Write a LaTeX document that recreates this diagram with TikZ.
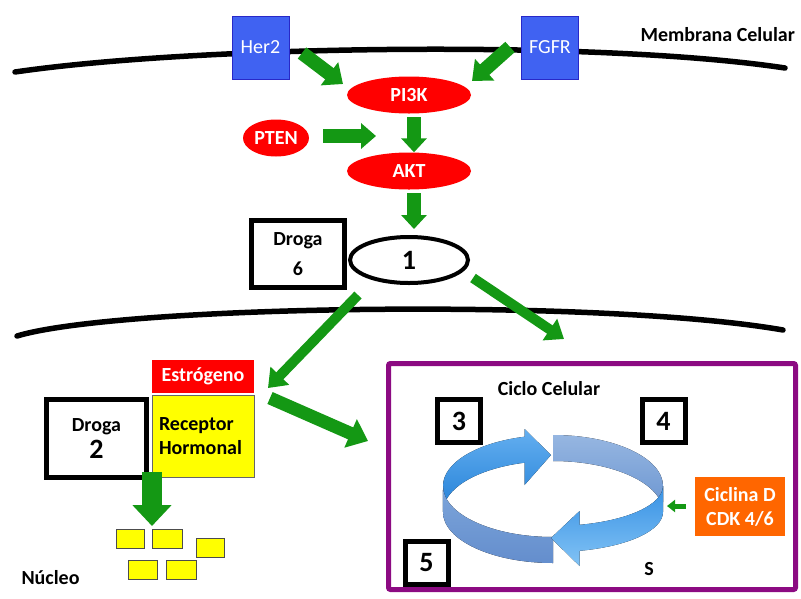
\documentclass[tikz,border=0pt]{standalone}
\usepackage{fontspec}
\setmainfont{Carlito}
\usetikzlibrary{arrows.meta,shapes.geometric,calc}
\definecolor{gr}{RGB}{20,152,20}
\definecolor{recblue}{RGB}{64,98,242}
\definecolor{recborder}{RGB}{40,40,200}
\definecolor{purp}{RGB}{140,10,130}
\definecolor{orng}{RGB}{255,102,0}
\definecolor{yel}{RGB}{255,255,0}
\begin{document}
\begin{tikzpicture}[x=1pt,y=-1pt,
  font=\fontsize{20}{24}\selectfont\bfseries,
  recbox/.style={draw=recborder, line width=1pt, fill=recblue, text=white,
    font=\fontsize{20}{24}\selectfont, minimum width=57pt, minimum height=63pt, inner sep=0pt},
  enz/.style={ellipse, fill=red, text=white, minimum width=124pt, minimum height=37pt, inner sep=0pt},
  drogabox/.style={draw, line width=5pt, fill=white, align=center, inner sep=0pt},
  numbox/.style={draw, line width=5pt, fill=white, minimum size=43pt, inner sep=0pt,
    font=\fontsize{28}{28}\selectfont\bfseries},
  nucbox/.style={draw=black!70, line width=0.8pt, fill=yel, minimum width=28pt, minimum height=19pt, inner sep=0pt},
  fat/.style={draw=gr, line width=14pt, -{Triangle[length=17pt,width=28pt]}},
  thin/.style={draw=gr, line width=10pt, -{Triangle[length=17pt,width=25pt]}},
  membrane/.style={line width=5.5pt, line cap=round}
]
\useasboundingbox (0,0) rectangle (801,598);

% membranes
\draw[membrane] (15,72) .. controls (200,45) and (600,40) .. (785,68);
\draw[membrane] (17,336) .. controls (120,305) and (600,298) .. (783,330);
\node[anchor=base west] (memb) at (637,41) {Membrana Celular};

% receptors
\node[recbox] (her2) at (260.5,47.5) {Her2};
\node[recbox] (fgfr) at (550,47.5) {FGFR};

% enzymes
\node[enz] (pi3k) at (409,95) {PI3K};
\node[enz, minimum width=66pt] (pten) at (276,138) {PTEN};
\node[enz] (akt) at (409,171) {AKT};

% oval 1 and droga 6
\node[ellipse, draw, line width=4pt, fill=white, minimum width=118pt, minimum height=46pt,
  font=\fontsize{28}{28}\selectfont\bfseries] (one) at (409,260) {1};
\node[drogabox, minimum width=93pt, minimum height=67pt] (d6) at (298,254) {Droga\\[6pt]6};

% arrows top
\coordinate (h2a) at (302,53); \coordinate (h2b) at (343,84);
\draw[fat] (h2a) -- (h2b);
\coordinate (fga) at (510,47); \coordinate (fgb) at (472,81);
\draw[fat] (fga) -- (fgb);
\coordinate (ptb) at (376,136);
\draw[fat, -{Triangle[length=15pt,width=25pt]}, shorten <=14pt] (pten.east |- ptb) -- (ptb);
\draw[fat, -{Triangle[length=14pt,width=25pt]}, shorten <=3.5pt] ([xshift=5pt]pi3k.south) -- ([xshift=5pt]akt.north);
\draw[fat, -{Triangle[length=14pt,width=25pt]}, shorten <=3.5pt, shorten >=6pt] ([xshift=5pt]akt.south) -- ([xshift=5pt]one.north);

% membrane 2 arrows
\coordinate (o1a) at (358,295); \coordinate (o1b) at (268,388);
\draw[thin] (o1a) -- (o1b);
\coordinate (o2a) at (473,278); \coordinate (o2b) at (564,339);
\draw[thin] (o2a) -- (o2b);

% hormone receptor
\node[fill=red, text=white, minimum width=102pt, minimum height=33pt, inner sep=0pt] (estro) at (203,376.5) {Estrógeno};
\node[draw=black!60, line width=0.8pt, fill=yel, text width=88pt, inner xsep=7pt, inner ysep=0pt,
  minimum height=82pt, align=left] (rec) at (203,436) {Receptor\\Hormonal};
\node[drogabox, minimum width=100pt, minimum height=78pt] (d2) at (96.5,438.5)
  {Droga\\[3pt]{\fontsize{28}{28}\selectfont 2}};

\coordinate (ra) at (270,398); \coordinate (rb) at (368,441);
\draw[fat, line width=13pt, -{Triangle[length=19pt,width=30pt]}] (ra) -- (rb);
\coordinate (dna) at (152,472); \coordinate (dnb) at (152,526);
\draw[fat, line width=20pt, -{Triangle[length=21pt,width=38pt]}] (dna) -- (dnb);

% nucleus
\node[nucbox] (n1) at (130,538.5) {};
\node[nucbox, minimum width=30pt] (n2) at (167,538.5) {};
\node[nucbox] (n3) at (210,548) {};
\node[nucbox, minimum width=29pt] (n4) at (142.5,570) {};
\node[nucbox, minimum width=30pt] (n5) at (181,570) {};
\node[anchor=base west] (nuc) at (18,584) {Núcleo};

% cell cycle box
\node[draw=purp, line width=5pt, minimum width=407pt, minimum height=226pt, inner sep=0pt, rounded corners=2pt] (cyc) at (592,476.5) {};
\node (cctitle) at (549,389) {Ciclo Celular};

% ribbon
\fill[top color={rgb,255:red,150;green,182;blue,225}, bottom color={rgb,255:red,105;green,148;blue,208}]
  (553,435) arc[start angle=270,end angle=360,x radius=110,y radius=51] -- (663,512)
  arc[start angle=360,end angle=270,x radius=110,y radius=51] -- cycle;
\fill[top color={rgb,255:red,100;green,175;blue,240}, bottom color={rgb,255:red,35;green,128;blue,215}]
  (443,486) arc[start angle=180,end angle=255,x radius=110,y radius=51] -- (524.5,429) -- (551,455) -- (524.5,485) -- (524.5,462.7)
  arc[start angle=255,end angle=180,x radius=110,y radius=51] -- cycle;
\fill[top color={rgb,255:red,125;green,165;blue,218}, bottom color={rgb,255:red,100;green,142;blue,205}]
  (553,537) arc[start angle=90,end angle=180,x radius=110,y radius=51] -- (443,512)
  arc[start angle=180,end angle=90,x radius=110,y radius=51] -- cycle;
\fill[top color={rgb,255:red,55;green,145;blue,228}, bottom color={rgb,255:red,130;green,195;blue,245}]
  (663,486) arc[start angle=0,end angle=76,x radius=110,y radius=40] -- (579.6,511) -- (551,538) -- (579.6,566) -- (579.6,550.8)
  arc[start angle=76,end angle=0,x radius=110,y radius=40] -- cycle;

\node[numbox] (b3) at (459,421) {3};
\node[numbox] (b4) at (663.5,421) {4};
\node[numbox] (b5) at (426.5,562.5) {5};
\node (s) at (649,569) {S};
\node[fill=orng, text=white, minimum width=90pt, minimum height=59pt, inner sep=0pt, align=center] (cic) at (740,506.5) {Ciclina D\\CDK 4/6};
\coordinate (cictip) at (667,506);
\draw[draw=gr, line width=5pt, -{Triangle[length=8pt,width=12pt]}, shorten <=9pt] (cic.west |- cictip) -- (cictip);
\end{tikzpicture}
\end{document}
